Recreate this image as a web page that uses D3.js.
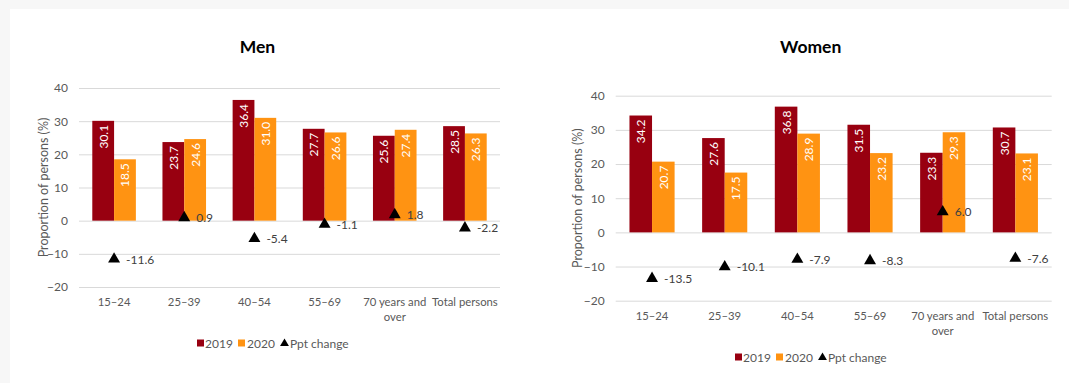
<!DOCTYPE html>
<html><head><meta charset="utf-8">
<script src="https://cdn.jsdelivr.net/npm/d3@7"></script>
<style>
html,body{margin:0;padding:0;background:#f7f7f7;}
svg{display:block;font-family:Lato,"Open Sans",sans-serif;}
</style></head>
<body>
<svg id="c" width="1069" height="383"></svg>
<script>
const categories = ["15–24","25–39","40–54","55–69","70 years and over","Total persons"];
const categoryLines = [["15–24"],["25–39"],["40–54"],["55–69"],["70 years and","over"],["Total persons"]];
const seriesNames = ["2019","2020"];
const legendChange = "Ppt change";
const yTicks = [-20,-10,0,10,20,30,40];

const men2019 = [30.1,23.7,36.4,27.7,25.6,28.5];
const men2020 = [18.5,24.6,31.0,26.6,27.4,26.3];
const menChange = [-11.6,0.9,-5.4,-1.1,1.8,-2.2];

const women2019 = [34.2,27.6,36.8,31.5,23.3,30.7];
const women2020 = [20.7,17.5,28.9,23.2,29.3,23.1];
const womenChange = [-13.5,-10.1,-7.9,-8.3,6.0,-7.6];

const colors = {"2019":"#980010","2020":"#ff9312"};
const FS = 12;

const svg = d3.select("#c");
svg.append("rect").attr("width",1069).attr("height",383).attr("fill","#f7f7f7");
svg.append("rect").attr("x",10).attr("y",9).attr("width",1059).attr("height",374).attr("fill","#fff");

function chart(o){
  const g = svg.append("g");
  const x = d3.scaleBand().domain(categories).range([o.x0,o.x1]).padding(0);
  const y = d3.scaleLinear().domain([-20,40]).range([o.yb,o.yt]);
  const xi = d3.scaleBand().domain(seriesNames).range([0,x.bandwidth()]).paddingInner(0).paddingOuter(0.61);

  g.append("text").attr("x",(o.x0+o.x1)/2 + o.titleDx).attr("y",o.titleY).attr("text-anchor","middle")
    .attr("font-size",17.5).attr("font-weight","bold").attr("fill","#000").text(o.title);

  const yAxis = d3.axisLeft(y).tickValues(yTicks).tickSize(-(o.x1-o.x0)).tickPadding(11).tickFormat(d3.format("d"));
  const ga = g.append("g").attr("transform",`translate(${o.x0},0)`).call(yAxis);
  ga.select(".domain").remove();
  ga.selectAll(".tick line").attr("stroke","#d9d9d9").attr("stroke-width",1);
  ga.selectAll(".tick text").attr("fill","#595959").attr("font-size",FS).attr("font-family","Lato");

  g.append("text").attr("transform",`translate(${o.ytx},${(o.yt+o.yb)/2}) rotate(-90)`)
    .attr("text-anchor","middle").attr("dominant-baseline","central").attr("font-size",FS+0.5).attr("fill","#595959")
    .text("Proportion of persons (%)");

  const data = [o.v2019,o.v2020];
  seriesNames.forEach((s,si)=>{
    const vals = data[si];
    g.selectAll(null).data(categories).enter().append("rect")
      .attr("x",d=>x(d)+xi(s)).attr("width",xi.bandwidth())
      .attr("y",(d,i)=>y(vals[i])).attr("height",(d,i)=>y(0)-y(vals[i]))
      .attr("fill",colors[s]);
    g.selectAll(null).data(categories).enter().append("text")
      .attr("transform",(d,i)=>`translate(${x(d)+xi(s)+xi.bandwidth()/2},${y(vals[i])+4}) rotate(-90)`)
      .attr("text-anchor","end").attr("dominant-baseline","central")
      .attr("font-size",FS).attr("fill","#fff")
      .text((d,i)=>vals[i].toFixed(1));
  });

  const tri = d3.symbol().type(d3.symbolTriangle).size(62);
  g.selectAll(null).data(categories).enter().append("path")
    .attr("d",tri).attr("fill","#000")
    .attr("transform",(d,i)=>`translate(${x(d)+x.bandwidth()/2},${y(o.change[i])})`);
  g.selectAll(null).data(categories).enter().append("text")
    .attr("x",d=>x(d)+x.bandwidth()/2+12).attr("y",(d,i)=>y(o.change[i]))
    .attr("dominant-baseline","central").attr("font-size",FS).attr("fill","#404040")
    .text((d,i)=>o.change[i].toFixed(1));

  categories.forEach((c,i)=>{
    const t = g.append("text").attr("x",x(c)+x.bandwidth()/2).attr("y",o.xly)
      .attr("text-anchor","middle").attr("font-size",11.3).attr("fill","#595959");
    categoryLines[i].forEach((ln,j)=>{
      t.append("tspan").attr("x",x(c)+x.bandwidth()/2).attr("dy",j===0?0:15).text(ln);
    });
  });

  const lg = g.append("g").attr("transform",`translate(${o.lgx},${o.lgy})`);
  lg.append("rect").attr("x",0).attr("y",-3.5).attr("width",7).attr("height",7).attr("fill",colors["2019"]);
  lg.append("text").attr("x",8).attr("y",0).attr("dominant-baseline","central").attr("font-size",FS).attr("fill","#595959").text(seriesNames[0]);
  lg.append("rect").attr("x",41).attr("y",-3.5).attr("width",7).attr("height",7).attr("fill",colors["2020"]);
  lg.append("text").attr("x",50).attr("y",0).attr("dominant-baseline","central").attr("font-size",FS).attr("fill","#595959").text(seriesNames[1]);
  lg.append("path").attr("d",d3.symbol().type(d3.symbolTriangle).size(34)).attr("transform","translate(87.5,0.5)").attr("fill","#000");
  lg.append("text").attr("x",93).attr("y",0).attr("dominant-baseline","central").attr("font-size",FS).attr("fill","#595959").text(legendChange);
}

chart({title:"Men",x0:79,x1:500,yt:88,yb:287,titleY:53,titleDx:-32,ytx:43,xly:306,lgx:197,lgy:343,
  v2019:men2019,v2020:men2020,change:menChange});
chart({title:"Women",x0:615.7,x1:1051.7,yt:95.7,yb:300.7,titleY:53,titleDx:-23,ytx:577,xly:320,lgx:735,lgy:357,
  v2019:women2019,v2020:women2020,change:womenChange});
</script>
</body></html>
